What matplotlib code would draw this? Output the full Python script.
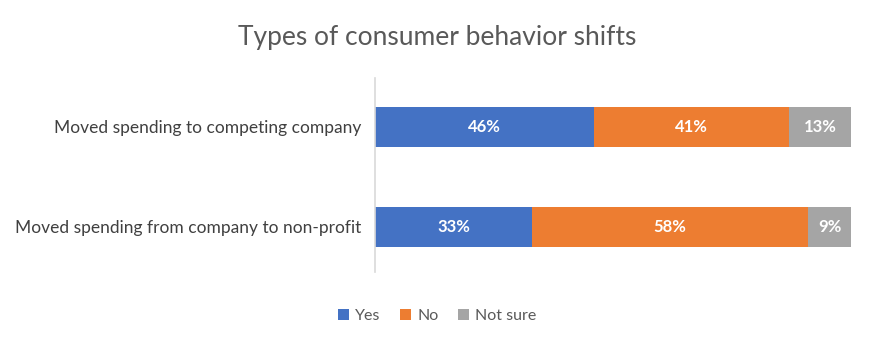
import matplotlib
matplotlib.use("Agg")
import matplotlib.pyplot as plt
from matplotlib.patches import Patch

plt.rcParams['font.family'] = ['Lato', 'DejaVu Sans']

categories = ["Moved spending to competing company",
              "Moved spending from company to non-profit"]
series_names = ["Yes", "No", "Not sure"]
yes_vals = [46, 33]
no_vals = [41, 58]
unsure_vals = [13, 9]
colors = ["#4472C4", "#ED7D31", "#A5A5A5"]

fig = plt.figure(figsize=(8.74, 3.47), dpi=100)
ax = fig.add_axes([375 / 874, 75 / 347, 476 / 874, 194 / 347])

ypos = list(range(len(categories)))
left = [0] * len(categories)
for name, vals, col in zip(series_names, [yes_vals, no_vals, unsure_vals], colors):
    bars = ax.barh(ypos, vals, left=left, height=0.4, color=col, label=name)
    for b, v in zip(bars, vals):
        ax.text(b.get_x() + b.get_width() / 2, b.get_y() + b.get_height() / 2,
                f"{v}%", ha="center", va="center", color="white",
                fontsize=12, fontweight="bold")
    left = [l + v for l, v in zip(left, vals)]

ax.set_xlim(0, 100)
ax.set_ylim(1.45, -0.49)
ax.set_yticks(ypos)
ax.set_yticklabels(categories, fontsize=12.5, color="#404040")
ax.tick_params(axis="y", length=0, pad=10)
ax.set_xticks([])
for side in ["top", "right", "bottom"]:
    ax.spines[side].set_visible(False)
ax.spines["left"].set_color("#D9D9D9")
ax.spines["left"].set_linewidth(1.2)

fig.text(0.5, 1 - 38 / 347, "Types of consumer behavior shifts",
         ha="center", va="center", fontsize=19, color="#595959")

handles = [Patch(facecolor=c, label=n) for n, c in zip(series_names, colors)]
fig.legend(handles=handles, loc="center", bbox_to_anchor=(0.5, 1 - 316 / 347),
           ncol=3, frameon=False, fontsize=11.5, handlelength=0.7, handleheight=0.7,
           handletextpad=0.4, columnspacing=1.2, labelcolor="#595959")

fig.savefig("out.png", dpi=100)
